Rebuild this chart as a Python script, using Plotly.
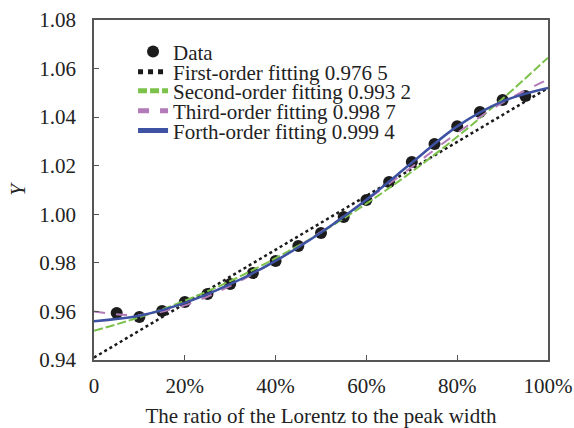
import plotly.graph_objects as go

# Measured data points
data_x = [0.05, 0.10, 0.15, 0.20, 0.25, 0.30, 0.35, 0.40, 0.45, 0.50,
          0.55, 0.60, 0.65, 0.70, 0.75, 0.80, 0.85, 0.90, 0.95]
data_y = [0.9594, 0.9577, 0.9602, 0.9639, 0.9672, 0.9713, 0.9758, 0.9808, 0.9869, 0.9923,
          0.9989, 1.0059, 1.0133, 1.0215, 1.0289, 1.0363, 1.0421, 1.0471, 1.0487]

# Fitted curves
fit_x = [0.0, 0.1, 0.2, 0.3, 0.4, 0.5, 0.6, 0.7, 0.8, 0.9, 1.0]
first_y = [0.9410, 0.9521, 0.9632, 0.9743, 0.9854, 0.9965, 1.0076, 1.0187, 1.0298, 1.0409, 1.0520]
second_y = [0.9520, 0.9576, 0.9644, 0.9725, 0.9819, 0.9925, 1.0044, 1.0175, 1.0319, 1.0476, 1.0645]
third_y = [0.9600, 0.9585, 0.9625, 0.9705, 0.9808, 0.9928, 1.0058, 1.0195, 1.0335, 1.0460, 1.0555]
fourth_y = [0.9560, 0.9582, 0.9635, 0.9712, 0.9808, 0.9925, 1.0060, 1.0212, 1.0362, 1.0465, 1.0520]

x_tickvals = [0, 0.2, 0.4, 0.6, 0.8, 1.0]
x_ticktext = ["0", "20%", "40%", "60%", "80%", "100%"]
y_tickvals = [0.94, 0.96, 0.98, 1.00, 1.02, 1.04, 1.06, 1.08]
y_ticktext = ["0.94", "0.96", "0.98", "1.00", "1.02", "1.04", "1.06", "1.08"]

names = ["Data", "First-order fitting 0.976 5", "Second-order fitting 0.993 2",
         "Third-order fitting 0.998 7", "Forth-order fitting 0.999 4"]

FONT = "Liberation Serif, Times New Roman, serif"
FS = 21
TXT = "#222222"

fig = go.Figure()
fig.add_trace(go.Scatter(x=data_x, y=data_y, mode="markers", name=names[0], legend="legend",
                         marker=dict(color="#1c1c1c", size=12)))
fig.add_trace(go.Scatter(x=fit_x, y=first_y, mode="lines", name=names[1], legend="legend2",
                         line=dict(color="#1a1a1a", width=2.5, dash="dot")))
fig.add_trace(go.Scatter(x=fit_x, y=second_y, mode="lines", name=names[2], legend="legend3",
                         line=dict(color="#7cc24a", width=2, dash="9px,3px", shape="spline")))
fig.add_trace(go.Scatter(x=fit_x, y=third_y, mode="lines", name=names[3], legend="legend4",
                         line=dict(color="#b27ab8", width=2, dash="11px,11px", shape="spline")))
fig.add_trace(go.Scatter(x=fit_x, y=fourth_y, mode="lines", name=names[4], legend="legend5",
                         line=dict(color="#3d52a3", width=2.5, shape="spline")))

leg_x = 0.086
leg_ys = [0.906, 0.847, 0.791, 0.732, 0.674]


def leg(y):
    return dict(x=leg_x, y=y, xanchor="left", yanchor="middle",
                bgcolor="rgba(0,0,0,0)", font=dict(family=FONT, size=FS, color=TXT),
                itemsizing="constant")


fig.update_layout(
    width=574, height=428,
    margin=dict(l=94, r=26, t=20, b=68),
    paper_bgcolor="white", plot_bgcolor="white",
    font=dict(family=FONT, size=FS, color=TXT),
    showlegend=True,
    legend=leg(leg_ys[0]), legend2=leg(leg_ys[1]), legend3=leg(leg_ys[2]),
    legend4=leg(leg_ys[3]), legend5=leg(leg_ys[4]),
    xaxis=dict(range=[0, 1], tickvals=x_tickvals, ticktext=x_ticktext,
               showgrid=False, zeroline=False, showline=True, mirror=True,
               linecolor="#555", linewidth=1.5, ticks="inside", ticklen=5,
               tickcolor="#555", automargin=False, ticklabelstandoff=6,
               tickfont=dict(family=FONT, size=FS, color=TXT),
               title=dict(text="The ratio of the Lorentz to the peak width",
                          font=dict(family=FONT, size=FS, color=TXT), standoff=12)),
    yaxis=dict(range=[0.94, 1.08], tickvals=y_tickvals, ticktext=y_ticktext,
               showgrid=False, zeroline=False, showline=True, mirror=True,
               linecolor="#555", linewidth=1.5, ticks="inside", ticklen=5,
               tickcolor="#555", automargin=False, ticklabelstandoff=12,
               tickfont=dict(family=FONT, size=FS, color=TXT),
               title=dict(text="<i>Y</i>", font=dict(family=FONT, size=FS, color=TXT), standoff=8)),
)

fig.write_html("out.html", config={"displayModeBar": False},
               post_script="document.body.style.margin='0px';")
